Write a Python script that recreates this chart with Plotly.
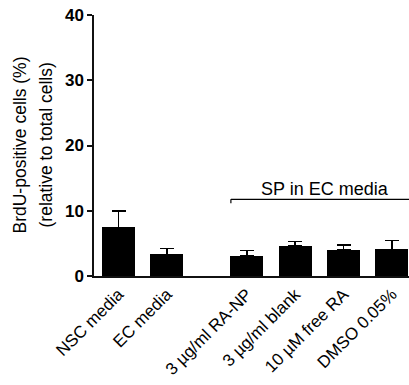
import plotly.graph_objects as go

categories = ["NSC media", "EC media", "3 µg/ml RA-NP", "3 µg/ml blank", "10 µM free RA", "DMSO 0.05%"]
values = [7.45, 3.32, 3.06, 4.65, 3.98, 4.08]
errors = [2.55, 0.87, 0.87, 0.66, 0.77, 1.38]
y_ticks = [0, 10, 20, 30, 40]
bracket_label = "SP in EC media"

# positions: first two bars, then a gap, then the SP group
GAP = 0.655
x_pos = [i if i < 2 else i + GAP for i in range(len(categories))]

FONT = "Arial, 'Liberation Sans', sans-serif"

fig = go.Figure()
fig.add_trace(go.Bar(
    x=x_pos, y=values, width=0.68,
    marker=dict(color="black", line=dict(width=0)),
    error_y=dict(type="data", array=errors, arrayminus=[0]*len(errors), symmetric=False,
                 color="black", thickness=1.5, width=7),
    showlegend=False,
))

# bracket over SP group
bx0 = x_pos[2] - 0.33
bx1 = 6.05
by = 11.75
fig.add_shape(type="line", x0=bx0, x1=bx1, y0=by, y1=by, xref="x", yref="y",
              line=dict(color="black", width=1.2))
fig.add_shape(type="line", x0=bx0, x1=bx0, y0=by, y1=by - 0.6, xref="x", yref="y",
              line=dict(color="black", width=1.2))
fig.add_annotation(x=4.27, y=by, xref="x", yref="y", text=bracket_label, showarrow=False,
                   yanchor="bottom", xanchor="center", yshift=-2,
                   font=dict(family=FONT, size=18, color="black"))

# y-axis title lines
fig.add_annotation(x=-75/315, y=0.5, xref="paper", yref="paper", text="BrdU-positive cells (%)",
                   showarrow=False, textangle=-90, xanchor="center", yanchor="middle",
                   font=dict(family=FONT, size=17.5, color="black"))
fig.add_annotation(x=-49/315, y=0.5, xref="paper", yref="paper", text="(relative to total cells)",
                   showarrow=False, textangle=-90, xanchor="center", yanchor="middle",
                   font=dict(family=FONT, size=17.5, color="black"))

fig.update_layout(
    width=409, height=385,
    margin=dict(l=94, r=0, t=15, b=109),
    paper_bgcolor="white", plot_bgcolor="white",
    font=dict(family=FONT, color="black"),
    bargap=0,
)
fig.update_xaxes(
    range=[-0.507, 6.01], tickmode="array", tickvals=x_pos, ticktext=categories,
    tickangle=-45, tickfont=dict(family=FONT, size=17, color="black"),
    showline=True, linecolor="#111", linewidth=1.5, ticks="", showgrid=False, zeroline=False,
)
fig.update_yaxes(
    range=[0, 40], tickvals=y_ticks, ticks="outside", ticklen=5, tickwidth=1.5, tickcolor="#111",
    tickfont=dict(family=FONT, size=17, color="black", weight="bold"),
    showline=True, linecolor="#111", linewidth=1.5, showgrid=False, zeroline=False,
)

fig.write_html("out.html")
